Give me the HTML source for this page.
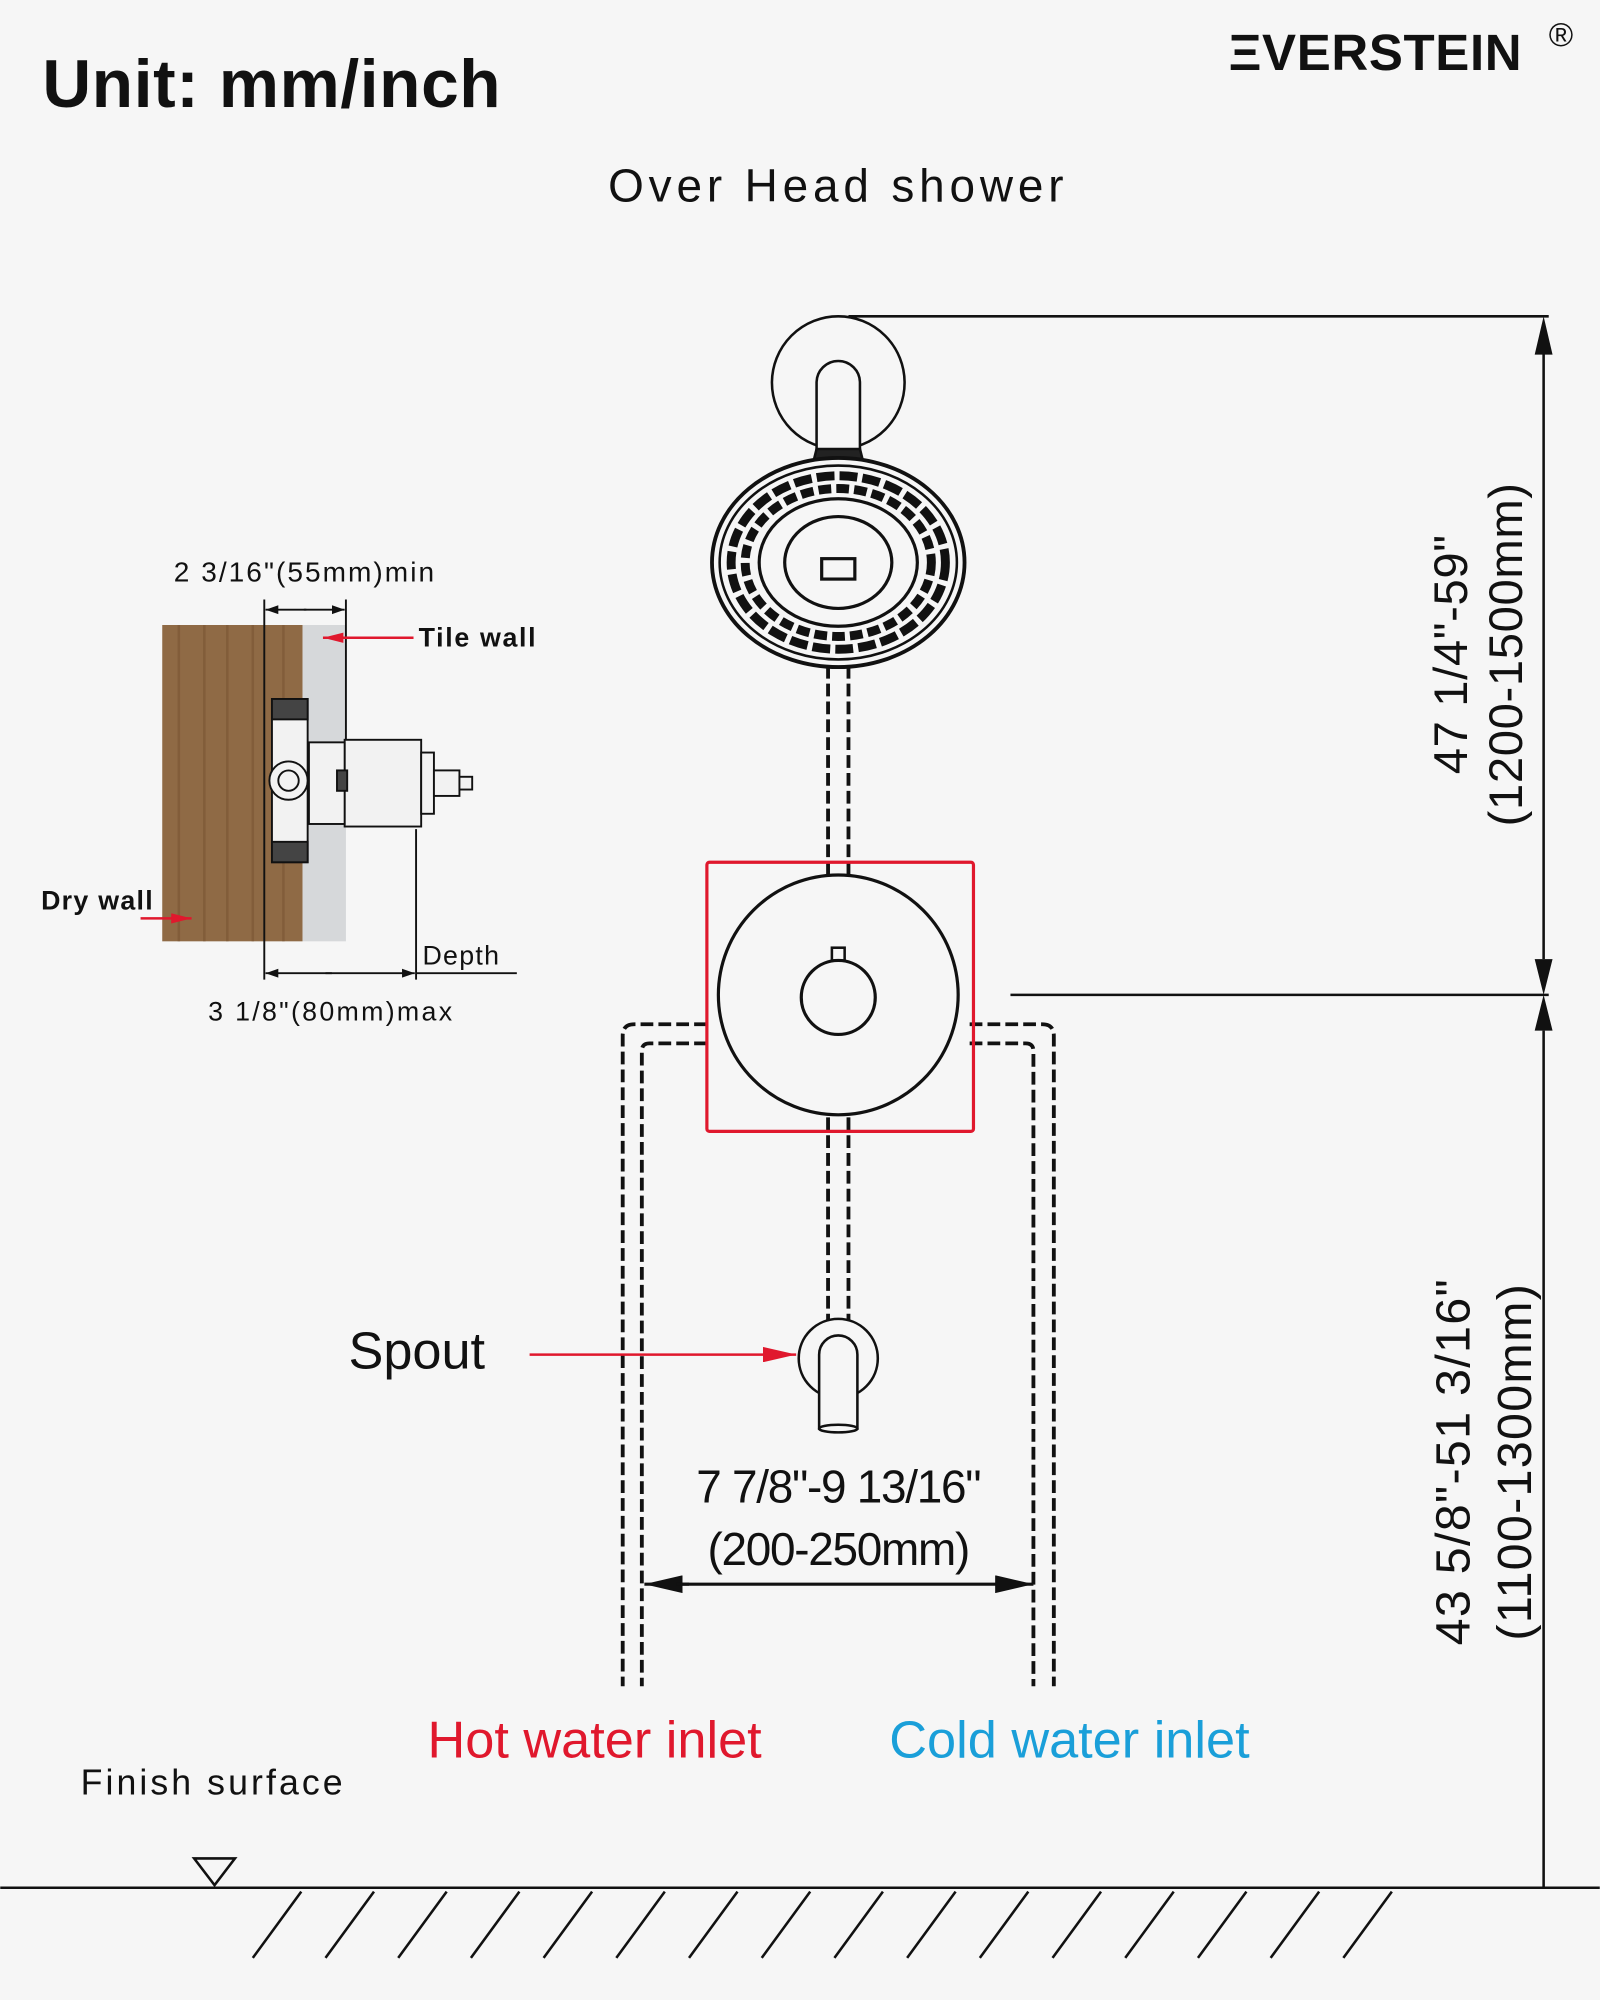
<!DOCTYPE html>
<html><head><meta charset="utf-8"><style>
html,body{margin:0;padding:0;background:#f6f6f6;}
svg{display:block}
text{font-family:"Liberation Sans",Arial,sans-serif;}
</style></head><body>
<svg width="1600" height="2000" viewBox="0 0 1254 1568" xmlns="http://www.w3.org/2000/svg">
<defs>
<marker id="ar" viewBox="0 0 10 10" refX="10" refY="5" markerWidth="10" markerHeight="10" markerUnits="userSpaceOnUse" orient="auto"><path d="M0,1.5 L10,5 L0,8.5 Z" fill="#111"/></marker>
<marker id="arb" viewBox="0 0 10 10" refX="10" refY="5" markerWidth="30" markerHeight="14" markerUnits="userSpaceOnUse" orient="auto" preserveAspectRatio="none"><path d="M0,0 L10,5 L0,10 Z" fill="#111"/></marker>
<marker id="arr" viewBox="0 0 10 10" refX="10" refY="5" markerWidth="26" markerHeight="12" markerUnits="userSpaceOnUse" orient="auto" preserveAspectRatio="none"><path d="M0,0 L10,5 L0,10 Z" fill="#e0182d"/></marker>
<marker id="arrs" viewBox="0 0 10 10" refX="10" refY="5" markerWidth="16" markerHeight="8" markerUnits="userSpaceOnUse" orient="auto" preserveAspectRatio="none"><path d="M0,0 L10,5 L0,10 Z" fill="#e0182d"/></marker>
</defs>
<rect width="1254" height="1568" fill="#f6f6f6"/>

<text x="33" y="84" font-size="53" font-weight="bold" fill="#111" letter-spacing="0.5">Unit: mm/inch</text>
<text x="963" y="55" font-size="40" font-weight="bold" fill="#111" letter-spacing="0.5">ΞVERSTEIN</text>
<text x="1214" y="36" font-size="26" fill="#111">®</text>
<text x="657" y="158" font-size="36" text-anchor="middle" fill="#111" letter-spacing="3.8">Over Head shower</text>

<g stroke="#111" stroke-width="2" fill="none">
<line x1="665" y1="248" x2="1214" y2="248"/>
<line x1="792" y1="780" x2="1214" y2="780"/>
<line x1="0" y1="1480" x2="1254" y2="1480"/>
<line x1="1210" y1="276" x2="1210" y2="752"/>
<line x1="1210" y1="808" x2="1210" y2="1480"/>
</g>
<path d="M1210,248 L1203,278 L1217,278 Z M1210,780 L1203,752 L1217,752 Z M1210,780 L1203,808 L1217,808 Z" fill="#111"/>
<text transform="translate(1150,513) rotate(-90)" font-size="37" text-anchor="middle" fill="#111" letter-spacing="0.5">47 1/4"-59"</text>
<text transform="translate(1193,513) rotate(-90)" font-size="37" text-anchor="middle" fill="#111" letter-spacing="0.5">(1200-1500mm)</text>
<text transform="translate(1152,1146) rotate(-90)" font-size="38" text-anchor="middle" fill="#111" letter-spacing="1">43 5/8"-51  3/16"</text>
<text transform="translate(1200,1146) rotate(-90)" font-size="38" text-anchor="middle" fill="#111" letter-spacing="1">(1100-1300mm)</text>

<g stroke="#111" stroke-width="2" fill="#f6f6f6">
<circle cx="657" cy="300" r="52"/>
<path d="M640,355 L640,300 A17,17 0 0 1 674,300 L674,355 Z"/>
<path d="M636,368 L640,352 L674,352 L678,368 Z" fill="#222"/>
</g>
<g stroke="#111" fill="none">
<ellipse cx="657" cy="441" rx="99" ry="82" stroke-width="3" fill="#f6f6f6"/>
<ellipse cx="657" cy="441" rx="93" ry="76" stroke-width="2"/>
<ellipse cx="657" cy="441" rx="84" ry="68" stroke-width="7" stroke-dasharray="14 4"/>
<ellipse cx="657" cy="441" rx="73" ry="58" stroke-width="7" stroke-dasharray="10 4"/>
<ellipse cx="657" cy="441" rx="62" ry="50" stroke-width="2.5"/>
<ellipse cx="657" cy="441" rx="42" ry="36" stroke-width="2.5"/>
<rect x="644" y="438" width="26" height="16" stroke-width="2.5"/>
</g>
<g stroke="#111" stroke-width="3" stroke-dasharray="10 4" fill="none">
<line x1="649" y1="522" x2="649" y2="686"/><line x1="665" y1="522" x2="665" y2="686"/>
<line x1="649" y1="876" x2="649" y2="1036"/><line x1="665" y1="876" x2="665" y2="1036"/>
<path d="M554,803 L497,803 Q488,803 488,812 L488,1322"/>
<path d="M554,818 L509,818 Q503,818 503,824 L503,1322"/>
<path d="M760,803 L817,803 Q826,803 826,812 L826,1322"/>
<path d="M760,818 L804,818 Q810,818 810,824 L810,1322"/>
</g>
<rect x="554" y="676" width="209" height="211" stroke="#e0182d" stroke-width="2.5" fill="none" rx="2"/>
<circle cx="657" cy="780" r="94" stroke="#111" stroke-width="2.5" fill="#f6f6f6"/>
<circle cx="657" cy="782" r="29" stroke="#111" stroke-width="2.5" fill="none"/>
<rect x="652" y="743" width="10" height="10" stroke="#111" stroke-width="2" fill="none"/>
<g stroke="#111" stroke-width="2" fill="#f6f6f6">
<circle cx="657" cy="1065" r="31"/>
<path d="M642,1120 L642,1062 A15,15 0 0 1 672,1062 L672,1120 Z"/>
<ellipse cx="657" cy="1120" rx="15" ry="3"/>
</g>
<line x1="415" y1="1062" x2="624" y2="1062" stroke="#e0182d" stroke-width="2" marker-end="url(#arr)"/>
<text x="273" y="1073" font-size="41" fill="#111">Spout</text>
<text x="657" y="1178" font-size="36" text-anchor="middle" fill="#111" letter-spacing="-1">7 7/8"-9  13/16"</text>
<text x="657" y="1227" font-size="36" text-anchor="middle" fill="#111" letter-spacing="-1">(200-250mm)</text>
<line x1="540" y1="1242" x2="505" y2="1242" stroke="#111" stroke-width="2.5" marker-end="url(#arb)"/>
<line x1="530" y1="1242" x2="810" y2="1242" stroke="#111" stroke-width="2.5" marker-end="url(#arb)"/>
<text x="335" y="1378" font-size="41" fill="#e0182d">Hot water inlet</text>
<text x="697" y="1378" font-size="41" fill="#1a9fd9">Cold water inlet</text>
<text x="63" y="1407" font-size="28" fill="#111" letter-spacing="2.4">Finish surface</text>
<path d="M152,1457 L184,1457 L168,1478 Z" fill="none" stroke="#111" stroke-width="2"/>
<g stroke="#111" stroke-width="2">
<line x1="198" y1="1535" x2="236" y2="1483"/><line x1="255" y1="1535" x2="293" y2="1483"/>
<line x1="312" y1="1535" x2="350" y2="1483"/><line x1="369" y1="1535" x2="407" y2="1483"/>
<line x1="426" y1="1535" x2="464" y2="1483"/><line x1="483" y1="1535" x2="521" y2="1483"/>
<line x1="540" y1="1535" x2="578" y2="1483"/><line x1="597" y1="1535" x2="635" y2="1483"/>
<line x1="654" y1="1535" x2="692" y2="1483"/><line x1="711" y1="1535" x2="749" y2="1483"/>
<line x1="768" y1="1535" x2="806" y2="1483"/><line x1="825" y1="1535" x2="863" y2="1483"/>
<line x1="882" y1="1535" x2="920" y2="1483"/><line x1="939" y1="1535" x2="977" y2="1483"/>
<line x1="996" y1="1535" x2="1034" y2="1483"/><line x1="1053" y1="1535" x2="1091" y2="1483"/>
</g>

<rect x="127" y="490" width="110" height="248" fill="#8f6a45"/>
<g stroke="#7a5634" stroke-width="2" opacity="0.6">
<line x1="140" y1="490" x2="140" y2="738"/><line x1="160" y1="490" x2="160" y2="738"/>
<line x1="178" y1="490" x2="178" y2="738"/><line x1="198" y1="490" x2="198" y2="738"/>
<line x1="222" y1="490" x2="222" y2="738"/>
</g>
<rect x="237" y="490" width="34" height="248" fill="#d6d8da"/>
<g stroke="#111" stroke-width="1.5">
<line x1="207" y1="470" x2="207" y2="768"/>
<line x1="271" y1="470" x2="271" y2="580"/>
<line x1="326" y1="650" x2="326" y2="768"/>
<line x1="326" y1="763" x2="405" y2="763"/>
</g>
<line x1="240" y1="478" x2="208" y2="478" stroke="#111" stroke-width="1.5" marker-end="url(#ar)"/>
<line x1="238" y1="478" x2="270" y2="478" stroke="#111" stroke-width="1.5" marker-end="url(#ar)"/>
<line x1="260" y1="763" x2="208" y2="763" stroke="#111" stroke-width="1.5" marker-end="url(#ar)"/>
<line x1="255" y1="763" x2="325" y2="763" stroke="#111" stroke-width="1.5" marker-end="url(#ar)"/>
<g stroke="#111" stroke-width="1.5" fill="#f2f2f2">
<rect x="213" y="548" width="28" height="128"/>
<rect x="213" y="548" width="28" height="16" fill="#444"/>
<rect x="213" y="660" width="28" height="16" fill="#444"/>
<rect x="270" y="580" width="60" height="68"/>
<rect x="330" y="590" width="10" height="48"/>
<rect x="340" y="604" width="20" height="20"/>
<rect x="360" y="609" width="10" height="10"/>
<rect x="242" y="582" width="28" height="64"/>
<circle cx="226" cy="612" r="15"/>
<circle cx="226" cy="612" r="8"/>
<rect x="264" y="604" width="8" height="16" fill="#444"/>
</g>
<text x="136" y="456" font-size="22" fill="#111" letter-spacing="1.6">2  3/16"(55mm)min</text>
<line x1="324" y1="500" x2="253" y2="500" stroke="#e0182d" stroke-width="2" marker-end="url(#arrs)"/>
<text x="328" y="507" font-size="21" font-weight="bold" fill="#111" letter-spacing="1.3">Tile wall</text>
<text x="32" y="713" font-size="21" font-weight="bold" fill="#111" letter-spacing="1">Dry wall</text>
<line x1="110" y1="720" x2="150" y2="720" stroke="#e0182d" stroke-width="2" marker-end="url(#arrs)"/>
<text x="331" y="756" font-size="21" fill="#111" letter-spacing="1">Depth</text>
<text x="163" y="800" font-size="21" fill="#111" letter-spacing="1.8">3 1/8"(80mm)max</text>
</svg>
</body></html>
